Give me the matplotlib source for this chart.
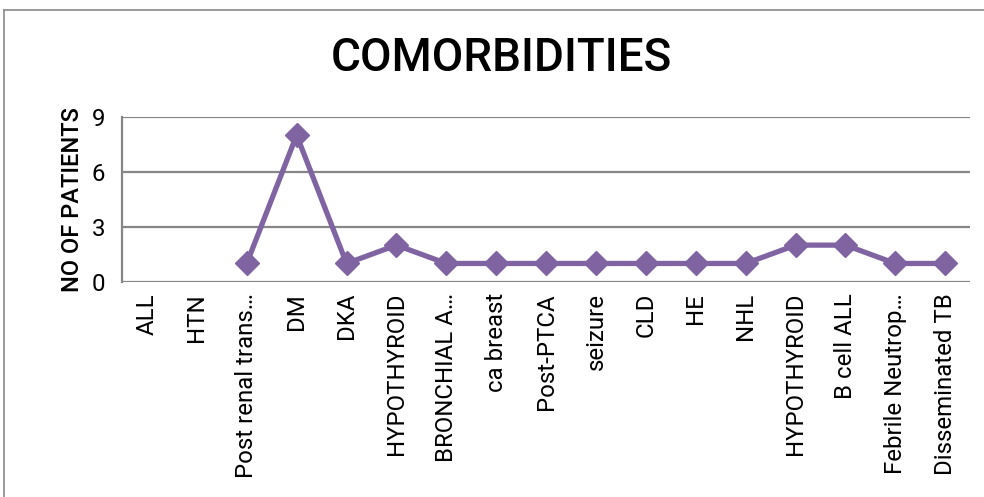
import numpy as np
import matplotlib.pyplot as plt
from matplotlib.lines import Line2D

plt.rcParams['font.family'] = ['Roboto', 'DejaVu Sans']

# comorbidity counts, blank where nothing was recorded
categories = ["ALL", "HTN", "Post renal trans\u2026", "DM", "DKA", "HYPOTHYROID",
              "BRONCHIAL A\u2026", "ca breast", "Post-PTCA", "seizure", "CLD", "HE",
              "NHL", "HYPOTHYROID", "B cell ALL", "Febrile Neutrop\u2026", "Disseminated TB"]
patients = [np.nan, np.nan, 1, 8, 1, 2, 1, 1, 1, 1, 1, 1, 1, 2, 2, 1, 1]
yticks = [0, 3, 6, 9]

fig = plt.figure(figsize=(9.84, 4.97), dpi=100)
ax = fig.add_axes([0.124, 0.433, 0.862, 0.332])

x = np.arange(len(categories))
ax.plot(x, patients, color="#8064A2", lw=3.8, marker="D", ms=12.5, zorder=3)

ax.set_xlim(-0.5, len(categories) - 0.5)
ax.set_ylim(0, 9)
ax.set_yticks(yticks)
ax.set_xticks(x)
ax.set_xticklabels(categories, rotation=90, fontsize=17.3)
ax.tick_params(axis="y", labelsize=17.3, length=0, pad=12)
ax.tick_params(axis="x", length=0, pad=8)
ax.grid(axis="y", color="#868686", lw=1.6)
ax.set_axisbelow(True)
for s in ["top", "right", "bottom"]:
    ax.spines[s].set_visible(False)
ax.spines["left"].set_color("#868686")
ax.spines["left"].set_linewidth(1.6)

ax.set_ylabel("NO OF PATIENTS", fontsize=17, fontweight="medium", labelpad=6)
fig.text(0.51, 0.883, "COMORBIDITIES", ha="center", va="center",
         fontsize=33, fontweight="medium")

# chart frame on left and top
fig.add_artist(Line2D([0.004, 0.004], [0, 0.98], color="#8a8a8a", lw=1.2,
                      transform=fig.transFigure))
fig.add_artist(Line2D([0.004, 1.0], [0.98, 0.98], color="#8a8a8a", lw=1.2,
                      transform=fig.transFigure))

fig.savefig("out.png", dpi=100)
